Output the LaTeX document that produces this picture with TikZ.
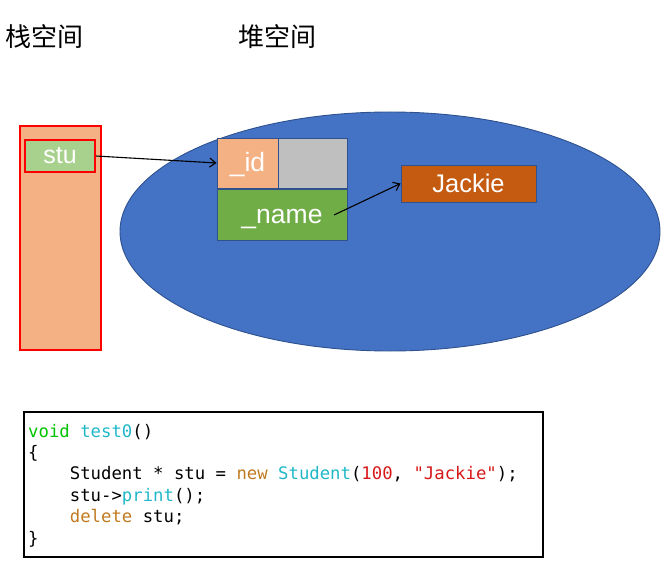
\documentclass[tikz,border=0pt]{standalone}
\usepackage{fontspec}
\newfontfamily\cjk{Noto Sans CJK SC}
\newfontfamily\arial{Liberation Sans}
\newfontfamily\codefont{DejaVu Sans Mono}
\usetikzlibrary{shapes.geometric,arrows.meta}
\definecolor{stackfill}{HTML}{F4B183}
\definecolor{stugreen}{HTML}{A9D18E}
\definecolor{heapblue}{HTML}{4472C4}
\definecolor{heapedge}{HTML}{2F528F}
\definecolor{cellgray}{HTML}{BFBFBF}
\definecolor{namegreen}{HTML}{70AD47}
\definecolor{jackiefill}{HTML}{C55A11}
\definecolor{kwgreen}{HTML}{00C400}
\definecolor{fncyan}{HTML}{20B8C8}
\definecolor{kworange}{HTML}{C07A20}
\definecolor{numred}{HTML}{D81818}
\tikzset{
  cell/.style={draw=heapedge, line width=0.9pt, inner sep=0pt, font=\arial\fontsize{26.5}{30}\selectfont, text=white},
  lowtext/.style={text height=17pt, text depth=0pt},
  redbox/.style={draw=red, line width=1.6pt, inner sep=0pt},
  ptr/.style={draw=black, line width=1.1pt, -{Straight Barb[length=6pt,width=9pt]}},
  title/.style={font=\cjk\fontsize{26}{30}\selectfont, inner sep=0pt, anchor=west},
  codeline/.style={font=\codefont\fontsize{17.3}{21}\selectfont, inner sep=0pt, anchor=base west}
}
\begin{document}
\begin{tikzpicture}[x=1pt,y=-1pt]
\useasboundingbox (0,0) rectangle (661,564);
\node[title] (stacktitle) at (5,37) {栈空间};
\node[title] (heaptitle) at (238,37) {堆空间};
% stack
\node[redbox, fill=stackfill, minimum width=81pt, minimum height=224pt] (stack) at (60.5,238) {};
\node[redbox, fill=stugreen, minimum width=70pt, minimum height=32pt, font=\arial\fontsize{25}{28}\selectfont, text=white] (stu) at (60,156) {stu};
% heap
\node[ellipse, draw=heapedge, line width=0.9pt, fill=heapblue, minimum width=540pt, minimum height=239pt] (heap) at (390,231.5) {};
\node[cell, lowtext, fill=stackfill, minimum width=61pt, minimum height=50pt] (id) at (247.5,163) {\_id};
\node[cell, fill=cellgray, minimum width=69pt, minimum height=50pt] (gray) at (312.5,163) {};
\node[cell, lowtext, fill=namegreen, minimum width=130pt, minimum height=51pt] (name) at (282,214.5) {\_name};
\node[cell, fill=jackiefill, minimum width=135pt, minimum height=37pt, font=\arial\fontsize{25.5}{28}\selectfont] (jackie) at (468.5,183.5) {Jackie};
\coordinate (namestart) at (334,215);
\draw[ptr] (stu.east) -- (id.west);
\draw[ptr] (namestart) -- (jackie.west);
% code
\node[draw=black, line width=1.3pt, minimum width=519pt, minimum height=145pt, inner sep=0pt] (code) at (283.5,484.5) {};
\node[codeline] (l1) at (28,437) {\textcolor{kwgreen}{void} \textcolor{fncyan}{test0}()};
\node[codeline] (l2) at (28,458.4) {\{};
\node[codeline] (l3) at (28,479.8) {\phantom{xxxx}Student * stu = \textcolor{kworange}{new} \textcolor{fncyan}{Student}(\textcolor{numred}{100}, \textcolor{numred}{"Jackie"});};
\node[codeline] (l4) at (28,501.2) {\phantom{xxxx}stu->\textcolor{fncyan}{print}();};
\node[codeline] (l5) at (28,522.6) {\phantom{xxxx}\textcolor{kworange}{delete} stu;};
\node[codeline] (l6) at (28,544) {\}};
\end{tikzpicture}
\end{document}
